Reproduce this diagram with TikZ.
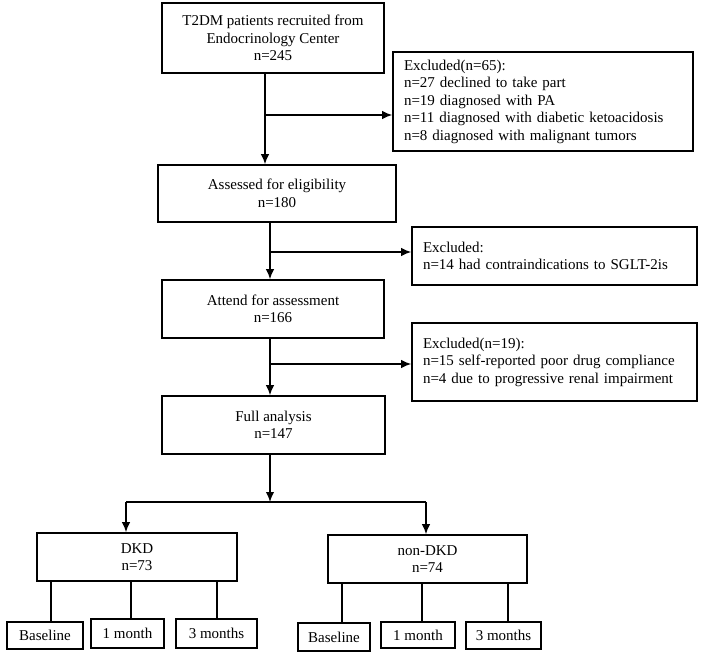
\documentclass[tikz,border=0pt]{standalone}
\usepackage{fontspec}
\setmainfont{Liberation Serif}
\usetikzlibrary{arrows.meta,positioning}
\tikzset{>={Latex[length=10pt,width=8.5pt]}}
\tikzset{box/.style={draw, line width=1.6pt, align=center, inner sep=0pt},
  exbox/.style={draw, line width=1.6pt, align=left, inner xsep=11pt, inner ysep=0pt},
  link/.style={line width=1.6pt}}

\begin{document}
\begin{tikzpicture}[x=1pt, y=-1pt, font=\fontsize{15}{17.5}\selectfont]
  \useasboundingbox (0,0) rectangle (702,657);
  % main column
  \node[box, minimum width=222pt, minimum height=70pt] (recruit) at (273,38)
    {T2DM patients recruited from\\Endocrinology Center\\n=245};
  \node[box, minimum width=238pt, minimum height=57pt] (assess) at (277,193.5)
    {Assessed for eligibility\\n=180};
  \node[box, minimum width=222pt, minimum height=58pt] (attend) at (273,309)
    {Attend for assessment\\n=166};
  \node[box, minimum width=223pt, minimum height=58pt] (full) at (273.5,425)
    {Full analysis\\n=147};
  % exclusions
  \node[exbox, text width=278pt, minimum height=99pt] (exA) at (543,101.5)
    {Excluded(n=65):\\n=27 declined to take part\\n=19 diagnosed with PA\\n=11 diagnosed with diabetic ketoacidosis\\n=8 diagnosed with malignant tumors};
  \node[exbox, text width=263pt, minimum height=58pt] (exB) at (554.5,256)
    {Excluded:\\n=14 had contraindications to SGLT-2is};
  \node[exbox, text width=263pt, minimum height=78pt] (exC) at (554.5,362)
    {Excluded(n=19):\\n=15 self-reported poor drug compliance\\n=4 due to progressive renal impairment};
  % groups
  \node[box, minimum width=200pt, minimum height=48pt] (dkd) at (137,557) {DKD\\n=73};
  \node[box, minimum width=199pt, minimum height=48pt] (ndkd) at (427.5,559) {non-DKD\\n=74};
  \node[box, minimum width=76pt, minimum height=27pt] (baseA) at (45,635.5) {Baseline};
  \node[box, minimum width=73pt, minimum height=29pt] (monthA) at (127.5,633.5) {1 month};
  \node[box, minimum width=81pt, minimum height=29pt] (threeA) at (216.5,633.5) {3 months};
  \node[box, minimum width=72pt, minimum height=28pt] (baseB) at (334,637) {Baseline};
  \node[box, minimum width=74pt, minimum height=26pt] (monthB) at (418,635) {1 month};
  \node[box, minimum width=75pt, minimum height=27pt] (threeB) at (503.5,635.5) {3 months};

  \coordinate (spineA) at (265,0);
  \coordinate (spineB) at (270,0);
  \coordinate (forkA) at (265,115);
  \coordinate (forkB) at (270,252);
  \coordinate (forkC) at (270,364);
  \coordinate (split) at (270,502);
  \coordinate (armL) at (126,502);
  \coordinate (armR) at (426,502);

  \draw[link,->] (recruit.south -| spineA) -- (assess.north -| spineA);
  \draw[link,->] (forkA) -- (forkA -| exA.west);
  \draw[link,->] (assess.south -| spineB) -- (attend.north -| spineB);
  \draw[link,->] (forkB) -- (forkB -| exB.west);
  \draw[link,->] (attend.south -| spineB) -- (full.north -| spineB);
  \draw[link,->] (forkC) -- (forkC -| exC.west);
  \draw[link,->] (full.south -| spineB) -- (split);
  \draw[link] (armL) -- (armR);
  \draw[link,->] (armL) -- (armL |- dkd.north);
  \draw[link,->] (armR) -- (armR |- ndkd.north);
  \foreach \x/\kid in {51/baseA, 131/monthA, 217/threeA}{
    \coordinate (leg) at (\x,0);
    \draw[link] (dkd.south -| leg) -- (\kid.north -| leg);
  }
  \foreach \x/\kid in {342/baseB, 422/monthB, 508/threeB}{
    \coordinate (leg) at (\x,0);
    \draw[link] (ndkd.south -| leg) -- (\kid.north -| leg);
  }
\end{tikzpicture}
\end{document}
